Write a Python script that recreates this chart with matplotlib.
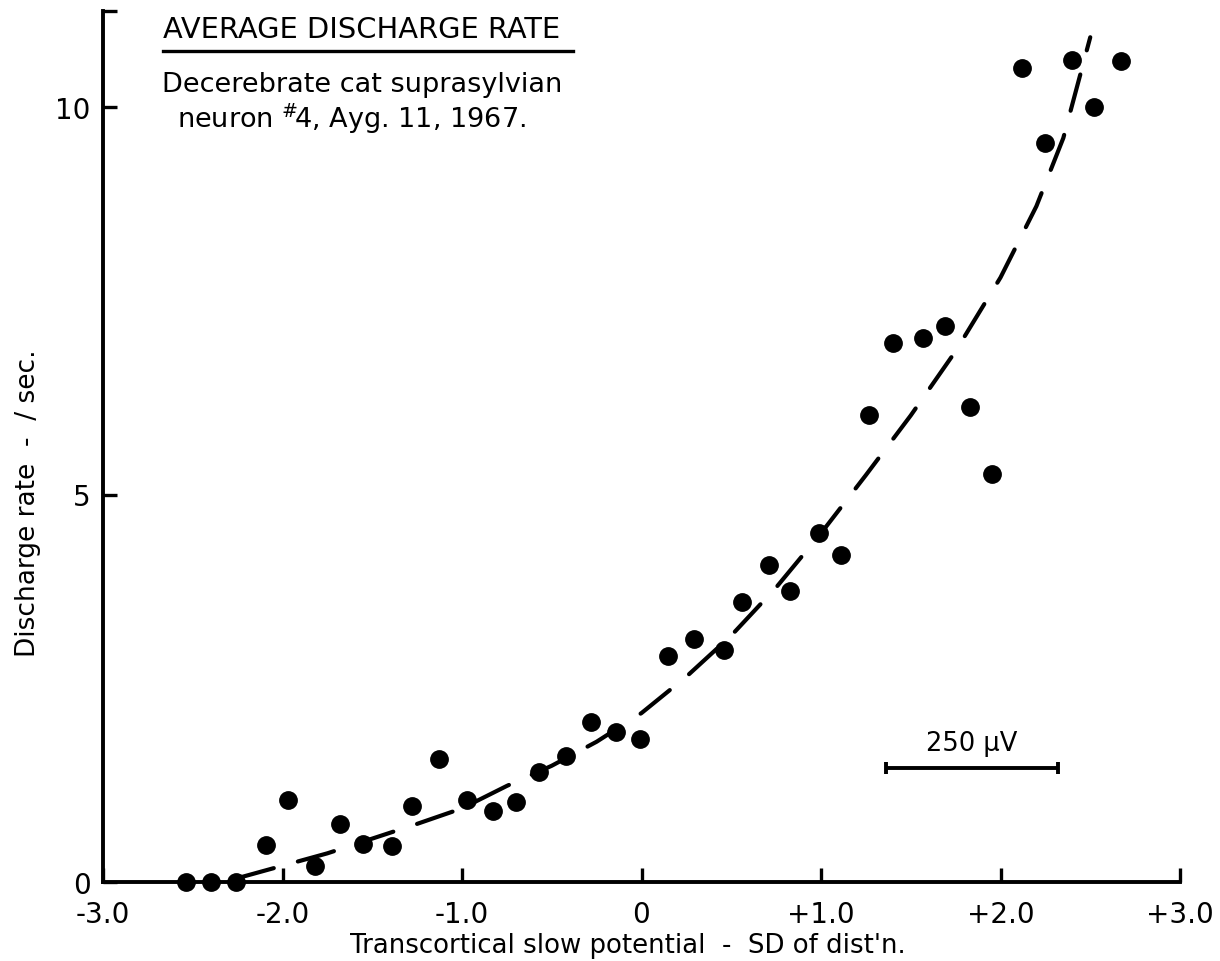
import numpy as np
import matplotlib
matplotlib.use('Agg')
import matplotlib.pyplot as plt

plt.rcParams['font.family'] = ['DejaVu Sans']

# Measured points: transcortical slow potential (SD) vs discharge rate (/sec)
pot_sd = [-2.54, -2.40, -2.26, -2.09, -1.97, -1.82, -1.68, -1.55, -1.39, -1.28,
          -1.13, -0.97, -0.83, -0.70, -0.57, -0.42, -0.28, -0.14, -0.01, 0.15,
          0.29, 0.46, 0.56, 0.71, 0.83, 0.99, 1.11, 1.27, 1.40, 1.57,
          1.69, 1.83, 1.95, 2.12, 2.25, 2.40, 2.52, 2.67]
rate = [0.0, 0.0, 0.0, 0.48, 1.06, 0.21, 0.75, 0.49, 0.47, 0.98,
        1.59, 1.06, 0.91, 1.03, 1.42, 1.63, 2.06, 1.94, 1.85, 2.91,
        3.14, 3.00, 3.61, 4.09, 3.75, 4.50, 4.22, 6.03, 6.95, 7.02,
        7.18, 6.13, 5.27, 10.50, 9.53, 10.61, 10.00, 10.59]

# Dashed fitted curve
fit_x = [-2.25, -2.0, -1.75, -1.5, -1.25, -1.0, -0.75, -0.5, -0.25, 0.0,
         0.25, 0.5, 0.75, 1.0, 1.25, 1.5, 1.75, 2.0, 2.2, 2.35, 2.5]
fit_y = [0.05, 0.21, 0.37, 0.56, 0.75, 0.95, 1.24, 1.50, 1.81, 2.18,
         2.65, 3.18, 3.80, 4.50, 5.25, 6.02, 6.85, 7.80, 8.72, 9.60, 10.90]

xticks = [-3.0, -2.0, -1.0, 0.0, 1.0, 2.0, 3.0]
xtick_labels = ['-3.0', '-2.0', '-1.0', '0', '+1.0', '+2.0', '+3.0']
yticks = [0, 5, 10]
ytick_labels = ['0', '5', '10']

W, H = 1220, 962
fig = plt.figure(figsize=(W / 100, H / 100), dpi=100)
ax = fig.add_axes([103 / W, 1 - 883 / H, (1180 - 103) / W, (883 - 12) / H])
ax.set_xlim(-3.0, 3.0)
ymax = (883 - 12) / 77.5
ax.set_ylim(0, ymax)

ax.plot(fit_x, fit_y, color='black', lw=3.0, dashes=(9, 6),
        dash_capstyle='round', zorder=2)
ax.plot(pot_sd, rate, 'o', color='black', ms=12.5, zorder=3, clip_on=False)

for s in ['top', 'right']:
    ax.spines[s].set_visible(False)
for s in ['left', 'bottom']:
    ax.spines[s].set_linewidth(2.8)

ax.set_xticks(xticks)
ax.set_xticklabels(xtick_labels)
ax.set_yticks(yticks + [ymax])
ax.set_yticklabels(ytick_labels + [''])
ax.tick_params(direction='in', length=10, width=2.4, labelsize=20, color='black')
ax.tick_params(axis='x', pad=13)
ax.tick_params(axis='y', pad=9)

# scale bar
ax.plot([1.36, 2.32], [1.47, 1.47], color='black', lw=2.8, solid_capstyle='butt')
ax.plot([1.36, 2.32], [1.47, 1.47], '|', color='black', ms=9, mew=2.8)
ax.text(1.84, 1.62, '250 \u00b5V', ha='center', va='bottom', fontsize=18.5)

# header text
fig.text(163 / W, 1 - 38 / H, 'AVERAGE DISCHARGE RATE', fontsize=20.8, ha='left', va='baseline')
fig.add_artist(plt.Line2D([163 / W, 573 / W], [1 - 52 / H, 1 - 52 / H], color='black', lw=2.4))
fig.text(162 / W, 1 - 92 / H, 'Decerebrate cat suprasylvian', fontsize=19.5, ha='left', va='baseline')
fig.text(177 / W, 1 - 128 / H, 'neuron $^{\\#}\\!$4, Ayg. 11, 1967.', fontsize=19.5, ha='left', va='baseline')

fig.text(628 / W, 1 - 933 / H, "Transcortical slow potential  -  SD of dist'n.",
         fontsize=18.7, ha='center', va='top')
fig.text(28 / W, 1 - 503 / H, 'Discharge rate  -  / sec.', fontsize=19,
         rotation=90, ha='center', va='center')

fig.savefig('out.png', dpi=100)
